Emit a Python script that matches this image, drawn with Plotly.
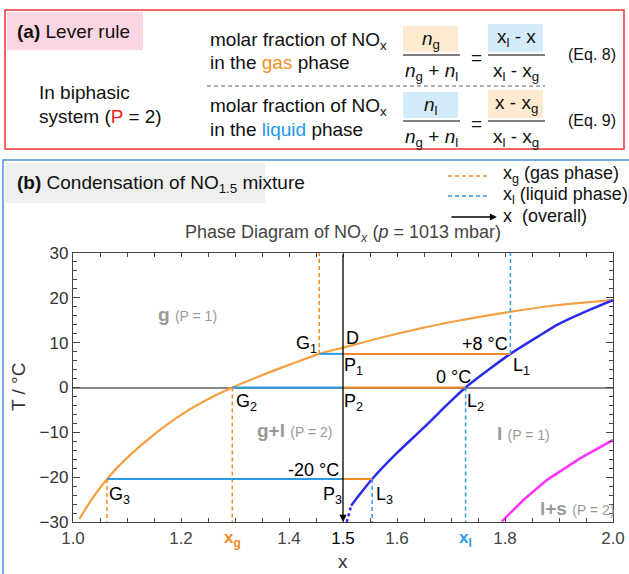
import plotly.graph_objects as go

# ---------------- data ----------------
dew_x = [1.012, 1.03, 1.063, 1.10, 1.155, 1.205, 1.25, 1.295, 1.35, 1.40, 1.456, 1.50, 1.60, 1.70, 1.81, 1.90, 2.00]
dew_T = [-29.3, -25.8, -20.4, -15.7, -10.0, -5.7, -2.6, 0.0, 2.75, 5.05, 7.5, 8.9, 12.0, 14.6, 16.9, 18.4, 19.5]

bub_ext_x = [1.507, 1.515]
bub_ext_T = [-30.0, -26.4]
bub_x = [1.515, 1.53, 1.554, 1.60, 1.65, 1.70, 1.727, 1.77, 1.81, 1.86, 1.90, 1.95, 2.00]
bub_T = [-26.4, -24.0, -20.4, -14.6, -8.9, -3.0, 0.0, 4.0, 7.5, 11.3, 14.2, 17.0, 19.5]

sol_x = [1.794, 1.834, 1.878, 1.939, 2.00]
sol_T = [-29.9, -25.1, -20.6, -15.8, -11.7]

x_overall = 1.5
tie_T = [7.5, 0.0, -20.4]
tie_xg = [1.456, 1.295, 1.063]
tie_xl = [1.81, 1.727, 1.554]
tie_dir = ["up", "down", "down"]
tie_labels = ["+8 °C", "0 °C", "-20 °C"]

x_ticks = [1.0, 1.2, 1.4, 1.5, 1.6, 1.8, 2.0]
x_ticktext = ["1.0", "1.2", "1.4", "<span style='color:#000'>1.5</span>", "1.6", "1.8", "2.0"]
y_ticks = [-30, -20, -10, 0, 10, 20, 30]

pt_names = ["G<sub>1</sub>", "D", "P<sub>1</sub>", "L<sub>1</sub>", "G<sub>2</sub>", "P<sub>2</sub>", "L<sub>2</sub>",
            "G<sub>3</sub>", "P<sub>3</sub>", "L<sub>3</sub>"]
pt_x = [1.433, 1.517, 1.519, 1.831, 1.322, 1.519, 1.746, 1.086, 1.48, 1.577]
pt_T = [9.5, 11.0, 4.6, 4.6, -3.4, -3.4, -3.4, -24.0, -24.0, -24.0]

# ---------------- colours ----------------
ORANGE = "#f5a040"
ORANGE_D = "#f08a24"
LBLUE = "#2a9be6"
BLUE = "#2b2bee"
MAGENTA = "#ff33ff"
FONT = "Liberation Sans, Arial, sans-serif"
TXT = "#111"

L, R, T, B = 73, 613, 253, 522
W, H = 629, 574


def px(x):
    return (x - L) / (R - L)


def py(y):
    return (B - y) / (B - T)


ann = []


def pa(xp, yp, text, size=19, color=TXT, xanchor="center", **kw):
    d = dict(x=px(xp), y=py(yp), xref="paper", yref="paper", text=text, showarrow=False,
             xanchor=xanchor, yanchor="middle", font=dict(family=FONT, size=size, color=color))
    d.update(kw)
    ann.append(d)


fig = go.Figure()

# curves
fig.add_trace(go.Scatter(x=dew_x, y=dew_T, mode="lines",
                         line=dict(color=ORANGE, width=2.2, shape="spline", smoothing=0.7),
                         hoverinfo="skip"))
fig.add_trace(go.Scatter(x=bub_ext_x, y=bub_ext_T, mode="lines", line=dict(color=BLUE, width=2.5, dash="3px,3px"),
                         hoverinfo="skip"))
fig.add_trace(go.Scatter(x=bub_x, y=bub_T, mode="lines",
                         line=dict(color=BLUE, width=2.5, shape="spline", smoothing=0.7),
                         hoverinfo="skip"))
fig.add_trace(go.Scatter(x=sol_x, y=sol_T, mode="lines", line=dict(color=MAGENTA, width=2.5),
                         hoverinfo="skip"))

# tie lines + dashed verticals
for Tt, xg, xl, d in zip(tie_T, tie_xg, tie_xl, tie_dir):
    fig.add_trace(go.Scatter(x=[xg, x_overall], y=[Tt, Tt], mode="lines",
                             line=dict(color=LBLUE, width=2), hoverinfo="skip"))
    fig.add_trace(go.Scatter(x=[x_overall, xl], y=[Tt, Tt], mode="lines",
                             line=dict(color=ORANGE_D, width=2), hoverinfo="skip"))
    yend = 30 if d == "up" else -30
    fig.add_trace(go.Scatter(x=[xg, xg], y=[Tt, yend], mode="lines",
                             line=dict(color=ORANGE_D, width=1.5, dash="4px,3px"), hoverinfo="skip"))
    fig.add_trace(go.Scatter(x=[xl, xl], y=[Tt, yend], mode="lines",
                             line=dict(color=LBLUE, width=1.5, dash="4px,3px"), hoverinfo="skip"))

# overall composition arrow
ann.append(dict(x=x_overall, y=-30, ax=x_overall, ay=30, xref="x", yref="y", axref="x", ayref="y",
                showarrow=True, arrowhead=2, arrowsize=1.1, arrowwidth=1.3, arrowcolor="#000", standoff=0, text=""))

# point labels
for n, xx, tt in zip(pt_names, pt_x, pt_T):
    ann.append(dict(x=xx, y=tt, xref="x", yref="y", text=n, showarrow=False, xanchor="center", yanchor="middle",
                    font=dict(family=FONT, size=18, color="#000")))

# temperature labels
temp_pos = [(1.763, 9.7), (1.704, 2.3), (1.446, -18.4)]
for t, (xx, tt) in zip(tie_labels, temp_pos):
    ann.append(dict(x=xx, y=tt, xref="x", yref="y", text=t, showarrow=False, xanchor="center", yanchor="middle",
                    font=dict(family=FONT, size=18, color="#000")))

# region labels
regions = [("<b>g</b> <span style='font-size:14px'>(P = 1)</span>", 1.212, 16.3),
           ("<b>g+l</b> <span style='font-size:14px'>(P = 2)</span>", 1.41, -9.6),
           ("<b>l</b> <span style='font-size:14px'>(P = 1)</span>", 1.835, -10.2),
           ("<b>l+s</b> <span style='font-size:14px'>(P = 2)</span>", 1.933, -27.0)]
for t, xx, tt in regions:
    ann.append(dict(x=xx, y=tt, xref="x", yref="y", text=t, showarrow=False, xanchor="center", yanchor="middle",
                    font=dict(family=FONT, size=19, color="#999")))

# special tick labels x_g and x_l
for xv, t, c in [(tie_xg[1], "<b>x<sub>g</sub></b>", ORANGE_D), (tie_xl[1], "<b>x<sub>l</sub></b>", LBLUE)]:
    ann.append(dict(x=xv, y=py(539), xref="x", yref="paper", text=t, showarrow=False,
                    xanchor="center", yanchor="middle", font=dict(family=FONT, size=17, color=c)))

# axis titles
pa(343, 561, "x", size=19, color="#333")
pa(18, 387, "T / °C", size=19, color="#333", textangle=-90)

# chart title
pa(343, 233, "Phase Diagram of NO<sub><i>x</i></sub> (<i>p</i> = 1013 mbar)", size=18, color="#444")

shapes = []
# ---------- panel (b) frame ----------
shapes.append(dict(type="rect", xref="paper", yref="paper", x0=px(3), x1=px(660), y0=py(160), y1=py(600),
                   line=dict(color="#4a90d9", width=1.5), layer="below"))
shapes.append(dict(type="rect", xref="paper", yref="paper", x0=px(5), x1=px(265), y0=py(163), y1=py(203),
                   fillcolor="#efefef", line=dict(width=0), layer="below"))
pa(15, 184, "<b>(b)</b> Condensation of NO<sub>1.5</sub> mixture", xanchor="left")

# legend
shapes.append(dict(type="line", xref="paper", yref="paper", x0=px(448), x1=px(490), y0=py(176), y1=py(176),
                   line=dict(color=ORANGE_D, width=1.3, dash="4px,3px")))
shapes.append(dict(type="line", xref="paper", yref="paper", x0=px(448), x1=px(490), y0=py(196), y1=py(196),
                   line=dict(color=LBLUE, width=1.3, dash="4px,3px")))
ann.append(dict(x=px(497), y=py(217), ax=-47, ay=0, xref="paper", yref="paper",
                showarrow=True, arrowhead=2, arrowsize=1.1, arrowwidth=1.3,
                arrowcolor="#000", standoff=0, text=""))
leg_txt = ["x<sub>g</sub> (gas phase)", "x<sub>l</sub> (liquid phase)", "x  (overall)"]
leg_y = [174, 195, 216]
for t, yy in zip(leg_txt, leg_y):
    pa(501, yy, t, size=18, xanchor="left")

# ---------- panel (a) ----------
shapes.append(dict(type="rect", xref="paper", yref="paper", x0=px(5), x1=px(624), y0=py(10), y1=py(149),
                   line=dict(color="#ee3333", width=1.5), layer="below"))
shapes.append(dict(type="rect", xref="paper", yref="paper", x0=px(7), x1=px(143), y0=py(12), y1=py(50),
                   fillcolor="#fbd5df", line=dict(width=0), layer="below"))
pa(15, 32, "<b>(a)</b> Lever rule", xanchor="left")
pa(37, 92, "In biphasic", xanchor="left")
pa(37, 117, "system (<span style='color:#ee2222'>P</span> = 2)", xanchor="left")

BEIGE = "#fcebd0"
SKY = "#d4ecfa"
rows = [
    dict(dy=0, c1=BEIGE, c2=SKY, phase="<span style='color:#f0901e'>gas</span>",
         num1="<i>n</i><sub>g</sub>", num2="x<sub>l</sub> - x", eq="(Eq. 8)"),
    dict(dy=66, c1=SKY, c2=BEIGE, phase="<span style='color:#1e9be6'>liquid</span>",
         num1="<i>n</i><sub>l</sub>", num2="x - x<sub>g</sub>", eq="(Eq. 9)"),
]
for r in rows:
    d = r["dy"]
    shapes.append(dict(type="rect", xref="paper", yref="paper", x0=px(403), x1=px(458), y0=py(26 + d),
                       y1=py(52 + d), fillcolor=r["c1"], line=dict(width=0), layer="below"))
    shapes.append(dict(type="rect", xref="paper", yref="paper", x0=px(488), x1=px(543), y0=py(24 + d),
                       y1=py(52 + d), fillcolor=r["c2"], line=dict(width=0), layer="below"))
    shapes.append(dict(type="line", xref="paper", yref="paper", x0=px(403), x1=px(460), y0=py(55 + d),
                       y1=py(55 + d), line=dict(color="#555", width=1.5)))
    shapes.append(dict(type="line", xref="paper", yref="paper", x0=px(488), x1=px(545), y0=py(55 + d),
                       y1=py(55 + d), line=dict(color="#555", width=1.5)))
    pa(208, 41 + d, "molar fraction of NO<sub>x</sub>", xanchor="left")
    pa(208, 63 + d, "in the " + r["phase"] + " phase", xanchor="left")
    pa(431, 40 + d, r["num1"])
    pa(431, 72 + d, "<i>n</i><sub>g</sub> + <i>n</i><sub>l</sub>")
    pa(476, 57 + d, "=")
    pa(516, 38 + d, r["num2"])
    pa(516, 72 + d, "x<sub>l</sub> - x<sub>g</sub>")
    pa(592, 54 + d, r["eq"], size=16)

shapes.append(dict(type="line", xref="paper", yref="paper", x0=px(207), x1=px(545), y0=py(86), y1=py(86),
                   line=dict(color="#666", width=1.2, dash="4px,3px")))

fig.update_layout(
    width=W, height=H,
    margin=dict(l=L, r=W - R, t=T, b=H - B),
    paper_bgcolor="white", plot_bgcolor="white",
    showlegend=False,
    shapes=shapes, annotations=ann,
    font=dict(family=FONT, color="#333"),
    xaxis=dict(range=[1.0, 2.0], showgrid=False, zeroline=False, automargin=False,
               showline=True, linecolor="#444", linewidth=1.3, mirror="allticks",
               ticks="inside", ticklen=4, tickcolor="#444", tickvals=x_ticks, ticktext=x_ticktext,
               tickfont=dict(family=FONT, size=17, color="#444"),
               minor=dict(ticks="inside", dtick=0.05, tick0=1.0, ticklen=4, tickcolor="#444")),
    yaxis=dict(range=[-30, 30], showgrid=False, zeroline=True, zerolinecolor="#888", zerolinewidth=1.5,
               automargin=False,
               showline=True, linecolor="#444", linewidth=1.3, mirror="allticks",
               ticks="inside", ticklen=7, tickcolor="#444", tickvals=y_ticks,
               tickfont=dict(family=FONT, size=17, color="#333"),
               minor=dict(ticks="inside", dtick=2, tick0=0, ticklen=4, tickcolor="#444")),
)

fig.write_html("out.html", config={"displayModeBar": False},
               post_script="document.body.style.margin='0';")
